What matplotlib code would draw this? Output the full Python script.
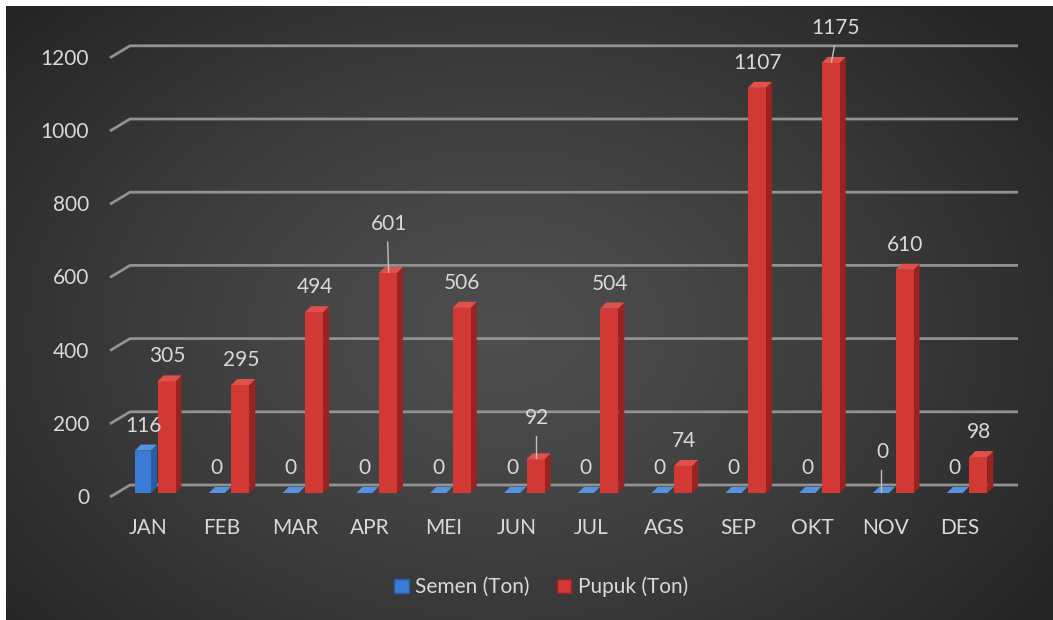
import numpy as np
import matplotlib
matplotlib.use('Agg')
import matplotlib.pyplot as plt
from matplotlib.patches import Polygon, Patch

plt.rcParams['font.family'] = ['Lato', 'DejaVu Sans']

bulan = ['JAN', 'FEB', 'MAR', 'APR', 'MEI', 'JUN', 'JUL', 'AGS', 'SEP', 'OKT', 'NOV', 'DES']
semen = [116, 0, 0, 0, 0, 0, 0, 0, 0, 0, 0, 0]
pupuk = [305, 295, 494, 601, 506, 92, 504, 74, 1107, 1175, 610, 98]
y_ticks = [0, 200, 400, 600, 800, 1000, 1200]

# posisi layout (pixel) -> koordinat data
X0, DX = 148, 73.8      # pusat kategori JAN, jarak antar kategori
Y0, K = 493, 0.366      # dasar batang, pixel per satuan

TXT = '#d9d9d9'
GRID = '#929292'
FS = 15


def px(xp, yp):
    return (xp - X0) / DX, (Y0 - yp) / K


fig = plt.figure(figsize=(10.53, 6.2), dpi=100)
fig.patch.set_facecolor('white')
ax = fig.add_axes([0, 0, 1, 1])
ax.axis('off')

# latar belakang gradien radial
h, w = 310, 525
yy, xx = np.mgrid[0:h, 0:w]
cx, cy = 0.47 * w, 0.52 * h
r = np.sqrt(((xx - cx) / (0.62 * w)) ** 2 + ((yy - cy) / (0.75 * h)) ** 2)
r = np.clip(r, 0, 1)
g = 0.305 - 0.16 * r ** 1.3
img = np.dstack([g, g, g])
(x_a, y_a), (x_b, y_b) = px(6, 6), px(1060, 630)
ax.imshow(img, extent=[x_a, x_b, y_b, y_a], aspect='auto', zorder=0, interpolation='bicubic')

# garis grid (dinding belakang dengan sudut kiri miring)
for v in y_ticks:
    p1 = px(110, 497 - K * v)
    p2 = px(130, 485 - K * v)
    p3 = px(1018, 485 - K * v)
    ax.plot([p1[0], p2[0], p3[0]], [p1[1], p2[1], p3[1]], color=GRID, lw=2, zorder=1,
            solid_capstyle='butt')
    tx, ty = px(89, 498 - K * v)
    ax.text(tx, ty, str(v), ha='right', va='center', color=TXT, fontsize=FS)

x = np.arange(len(bulan))
dx3, dy3 = 6 / DX, 6 / K


def bar3d(xs, vals, width, front, side, top):
    bars = ax.bar(xs, vals, width=width, color=front, zorder=3, linewidth=0)
    for b in bars:
        x0, x1 = b.get_x(), b.get_x() + b.get_width()
        hgt = b.get_height()
        ax.add_patch(Polygon([(x1, 0), (x1 + dx3, dy3), (x1 + dx3, hgt + dy3), (x1, hgt)],
                             closed=True, facecolor=side, lw=0, zorder=2.9))
        ax.add_patch(Polygon([(x0, hgt), (x1, hgt), (x1 + dx3, hgt + dy3), (x0 + dx3, hgt + dy3)],
                             closed=True, facecolor=top, lw=0, zorder=3.1))
    return bars


off_s, w_s = -5 / DX, 16 / DX
off_p, w_p = 18.5 / DX, 18 / DX
bar3d(x + off_s, semen, w_s, '#3a7bd5', '#2a5ca6', '#5592e0')
bar3d(x + off_p, pupuk, w_p, '#d23834', '#9a2220', '#e0514c')

# label data; beberapa label dinaikkan dengan garis penunjuk (pixel)
angkat = {('p', 3): (0, 49), ('p', 5): (1, 41), ('p', 9): (4, 35), ('s', 10): (1, 41)}


def label(xs, vals, key):
    for i, (xc, v) in enumerate(zip(xs, vals)):
        ox, oy = angkat.get((key, i), (0, 25))
        bx = X0 + DX * xc
        by = Y0 - K * v
        lx, ly = px(bx + ox, by - oy)
        ax.text(lx, ly, str(v), ha='center', va='center', color=TXT, fontsize=FS, zorder=5)
        if (key, i) in angkat:
            a = px(bx + ox - 1, by - oy + 18)
            b = px(bx, by - 1)
            ax.plot([a[0], b[0]], [a[1], b[1]], color='#bfbfbf', lw=1, zorder=5)


label(x + off_s, semen, 's')
label(x + off_p + 0.01, pupuk, 'p')

for i, m in enumerate(bulan):
    tx, ty = px(X0 + DX * i, 528)
    ax.text(tx, ty, m, ha='center', va='center', color=TXT, fontsize=FS)

handles = [Patch(facecolor='#3a7bd5', edgecolor='#2a5ca6'),
           Patch(facecolor='#d23834', edgecolor='#9a2220')]
leg = ax.legend(handles, ['Semen (Ton)', 'Pupuk (Ton)'], loc='center',
                bbox_to_anchor=(541 / 1053, 1 - 587 / 620), bbox_transform=fig.transFigure,
                ncol=2, frameon=False, handlelength=0.7, handleheight=0.7,
                handletextpad=0.3, columnspacing=1.3, fontsize=FS, labelcolor=TXT)

# batas sumbu disetel terakhir agar pemetaan pixel tetap
ax.set_xlim(-X0 / DX, (1053 - X0) / DX)
ax.set_ylim((Y0 - 620) / K, Y0 / K)

fig.savefig('out.png', dpi=100)
